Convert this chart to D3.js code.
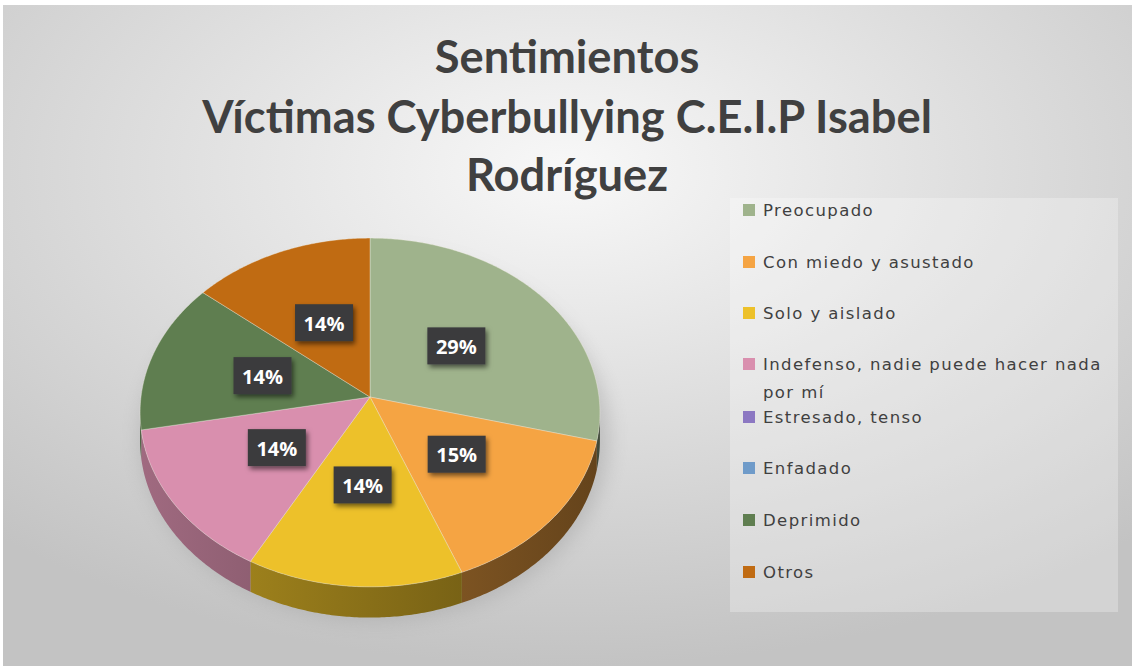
<!DOCTYPE html>
<html>
<head>
<meta charset="utf-8">
<style>
  body { margin: 0; background: #fff; }
</style>
</head>
<body>
<svg width="1132" height="666" id="chart"></svg>
<script src="https://cdn.jsdelivr.net/npm/d3@7/dist/d3.min.js"></script>
<script>
// data
var titleLines = ["Sentimientos", "Víctimas Cyberbullying C.E.I.P Isabel", "Rodríguez"];
var categories = ["Preocupado", "Con miedo y asustado", "Solo y aislado",
  "Indefenso, nadie puede hacer nada por mí", "Estresado, tenso", "Enfadado",
  "Deprimido", "Otros"];
var values = [29, 15, 14, 14, 0, 0, 14, 14];
var colors = ["#9fb38c", "#f5a443", "#edc12a", "#d98fae", "#8c78c2", "#6f9bc9", "#5f7e50", "#c06b12"];

var svg = d3.select("#chart"),
    width = +svg.attr("width"),
    height = +svg.attr("height");

var defs = svg.append("defs");

// background
var bg = defs.append("radialGradient").attr("id", "bg")
  .attr("cx", "50%").attr("cy", "25%").attr("r", "75%");
bg.append("stop").attr("offset", "0%").attr("stop-color", "#f8f8f8");
bg.append("stop").attr("offset", "100%").attr("stop-color", "#c3c3c3");

svg.append("rect").attr("x", 0).attr("y", 0).attr("width", width).attr("height", height).attr("fill", "#fff");
svg.append("rect").attr("x", 3).attr("y", 5).attr("width", width - 3).attr("height", height - 5)
  .attr("fill", "url(#bg)");

// filters
var sh = defs.append("filter").attr("id", "boxShadow").attr("x", "-30%").attr("y", "-30%").attr("width", "160%").attr("height", "160%");
sh.append("feDropShadow").attr("dx", 2).attr("dy", 3).attr("stdDeviation", 2.5)
  .attr("flood-color", "#000").attr("flood-opacity", 0.55);

var blur = defs.append("filter").attr("id", "pieShadow").attr("x", "-30%").attr("y", "-30%").attr("width", "160%").attr("height", "160%");
blur.append("feGaussianBlur").attr("stdDeviation", 10);

// title
var title = svg.append("g").attr("class", "title")
  .style("font-family", "Lato, 'Open Sans', sans-serif")
  .style("font-weight", "bold")
  .attr("fill", "#404040")
  .attr("text-anchor", "middle");

var titleY = [73, 133, 191];
var titleText = title.selectAll("text").data(titleLines).enter().append("text")
  .attr("x", 567)
  .attr("y", function(d, i) { return titleY[i]; })
  .style("font-size", "40px")
  .text(function(d) { return d; });

// fit title width to the reference (second line ~ 730px)
var w2 = titleText.nodes()[1].getComputedTextLength();
var fs = 40 * 730 / w2;
titleText.style("font-size", fs + "px");

// pie, drawn with a small perspective projection
var cx = 370, cy = 397,
    A = 229, B = 173, C = 0.0888, D = 28;

function proj(theta, r, drop) {
  var u = r * Math.sin(theta), v = -r * Math.cos(theta);
  var k = 1 / (1 - C * v);
  return [cx + A * u * k, cy + (B * v + drop) * k];
}

var pie = d3.pie().sort(null).value(function(d) { return d; });
var arcs = pie(values).map(function(a, i) {
  a.name = categories[i];
  a.color = colors[i];
  return a;
}).filter(function(a) { return a.value > 0; });

function topPath(a) {
  var p = d3.path();
  var c = proj(0, 0, 0);
  p.moveTo(c[0], c[1]);
  var n = Math.max(2, Math.ceil((a.endAngle - a.startAngle) / 0.01));
  for (var j = 0; j <= n; j++) {
    var t = a.startAngle + (a.endAngle - a.startAngle) * j / n;
    var q = proj(t, 1, 0);
    p.lineTo(q[0], q[1]);
  }
  p.closePath();
  return p.toString();
}

var thL = Math.acos(-C), thR = 2 * Math.PI - Math.acos(-C);

function sidePath(a) {
  var t0 = Math.max(a.startAngle, thL), t1 = Math.min(a.endAngle, thR);
  if (t1 <= t0) return null;
  var p = d3.path();
  var n = Math.max(2, Math.ceil((t1 - t0) / 0.01));
  var j, t, q;
  for (j = 0; j <= n; j++) {
    t = t0 + (t1 - t0) * j / n;
    q = proj(t, 1, 0);
    if (j === 0) p.moveTo(q[0], q[1]); else p.lineTo(q[0], q[1]);
  }
  for (j = n; j >= 0; j--) {
    t = t0 + (t1 - t0) * j / n;
    q = proj(t, 1, D);
    p.lineTo(q[0], q[1]);
  }
  p.closePath();
  return p.toString();
}

// soft shadow under the pie
svg.append("ellipse")
  .attr("cx", cx + 5).attr("cy", cy + 40)
  .attr("rx", A + 5).attr("ry", B + 10)
  .attr("fill", "#9a9a9a").attr("opacity", 0.45)
  .attr("filter", "url(#pieShadow)");

// side gradients
arcs.forEach(function(a, i) {
  var g = defs.append("linearGradient").attr("id", "side" + i)
    .attr("gradientUnits", "userSpaceOnUse")
    .attr("x1", cx - A).attr("x2", cx + A).attr("y1", 0).attr("y2", 0);
  g.append("stop").attr("offset", "0%").attr("stop-color", d3.color(a.color).darker(0.85));
  g.append("stop").attr("offset", "100%").attr("stop-color", d3.color(a.color).darker(2.5));
});

var sides = svg.append("g").attr("class", "sides");
arcs.forEach(function(a, i) {
  var d = sidePath(a);
  if (d) sides.append("path").attr("d", d).attr("fill", "url(#side" + i + ")");
});

svg.append("g").attr("class", "slices")
  .selectAll("path")
  .data(arcs)
  .enter().append("path")
  .attr("d", topPath)
  .attr("fill", function(d) { return d.color; })
  .attr("stroke", "#f4f0e6")
  .attr("stroke-opacity", 0.45)
  .attr("stroke-width", 0.8)
  .attr("stroke-linejoin", "round");

// data labels
var labels = svg.append("g").attr("class", "labels")
  .selectAll("g")
  .data(arcs)
  .enter().append("g")
  .attr("transform", function(d) {
    var q = proj((d.startAngle + d.endAngle) / 2, 0.49, 0);
    return "translate(" + q[0] + "," + q[1] + ")";
  });

labels.append("rect")
  .attr("x", -29).attr("y", -19)
  .attr("width", 58).attr("height", 37)
  .attr("fill", "#3b3b3d")
  .attr("filter", "url(#boxShadow)");

labels.append("text")
  .attr("text-anchor", "middle")
  .attr("y", 7.5)
  .style("font-family", "'Open Sans', sans-serif")
  .style("font-weight", "bold")
  .style("font-size", "20px")
  .attr("fill", "#fff")
  .text(function(d) { return d.value + "%"; });

// legend
var legend = svg.append("g").attr("class", "legend");
legend.append("rect")
  .attr("x", 730).attr("y", 198)
  .attr("width", 388).attr("height", 414)
  .attr("fill", "#ffffff").attr("opacity", 0.28);

var legendY = [210, 262, 313, 364, 417, 468, 520, 572];
var item = legend.selectAll("g.item")
  .data(categories)
  .enter().append("g")
  .attr("class", "item")
  .attr("transform", function(d, i) { return "translate(0," + legendY[i] + ")"; });

item.append("rect")
  .attr("x", 743).attr("y", -6)
  .attr("width", 12).attr("height", 12)
  .attr("fill", function(d, i) { return colors[i]; });

item.append("text")
  .attr("x", 763).attr("y", 6)
  .style("font-family", "'DejaVu Sans', sans-serif")
  .style("font-size", "16.5px")
  .style("letter-spacing", "1.4px")
  .attr("fill", "#404040")
  .each(function(d) {
    var t = d3.select(this);
    var cut = d.indexOf(" por mí");
    if (cut > 0) {
      t.append("tspan").attr("x", 763).text(d.slice(0, cut));
      t.append("tspan").attr("x", 763).attr("dy", 28).text(d.slice(cut + 1));
    } else {
      t.text(d);
    }
  });
</script>
</body>
</html>
